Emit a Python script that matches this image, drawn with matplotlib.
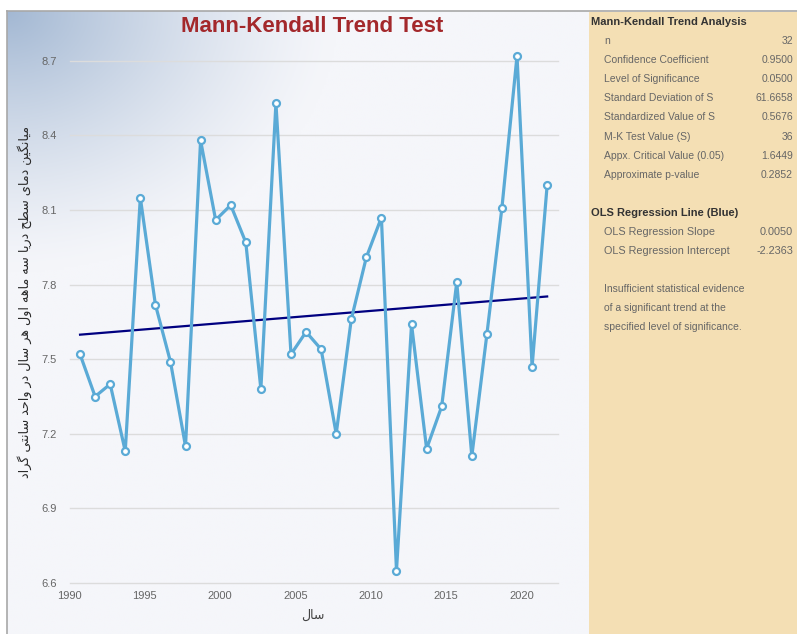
import numpy as np
import matplotlib
matplotlib.use('Agg')
import matplotlib.pyplot as plt
from matplotlib.lines import Line2D
from matplotlib.patches import Rectangle

# data
years = list(range(1991, 2023))
temps = [7.52, 7.35, 7.40, 7.13, 8.15, 7.72, 7.49, 7.15, 8.38, 8.06,
         8.12, 7.97, 7.38, 8.53, 7.52, 7.61, 7.54, 7.20, 7.66, 7.91,
         8.07, 6.65, 7.64, 7.14, 7.31, 7.81, 7.11, 7.60, 8.11, 8.72,
         7.47, 8.20]
x_ticks = [1990, 1995, 2000, 2005, 2010, 2015, 2020]
y_ticks = [6.6, 6.9, 7.2, 7.5, 7.8, 8.1, 8.4, 8.7]

title = "Mann-Kendall Trend Test"
x_label = "سال"
y_label = "میانگین دمای سطح دریا سه ماهه اول هر سال در واحد سانتی گراد"

mk_header = "Mann-Kendall Trend Analysis"
mk_names = ["n", "Confidence Coefficient", "Level of Significance",
            "Standard Deviation of S", "Standardized Value of S",
            "M-K Test Value (S)", "Appx. Critical Value (0.05)",
            "Approximate p-value"]
mk_values = ["32", "0.9500", "0.0500", "61.6658", "0.5676", "36",
             "1.6449", "0.2852"]
ols_header = "OLS Regression Line (Blue)"
ols_names = ["OLS Regression Slope", "OLS Regression Intercept"]
ols_values = ["0.0050", "-2.2363"]
verdict = ["Insufficient statistical evidence",
           "of a significant trend at the",
           "specified level of significance."]

# constants
fig_w, fig_h = 797, 634
series_colour = '#5aaad6'
trend_colour = '#000080'
panel_colour = '#f4dfb4'
tick_shift = 0.3

# persian letters -> (isolated, final, initial, medial)
forms = {
    '\u0627': ('\ufe8d', '\ufe8e', None, None),
    '\u062f': ('\ufea9', '\ufeaa', None, None),
    '\u0631': ('\ufead', '\ufeae', None, None),
    '\u0648': ('\ufeed', '\ufeee', None, None),
    '\u0645': ('\ufee1', '\ufee2', '\ufee3', '\ufee4'),
    '\u0646': ('\ufee5', '\ufee6', '\ufee7', '\ufee8'),
    '\u0633': ('\ufeb1', '\ufeb2', '\ufeb3', '\ufeb4'),
    '\u0637': ('\ufec1', '\ufec2', '\ufec3', '\ufec4'),
    '\u062d': ('\ufea1', '\ufea2', '\ufea3', '\ufea4'),
    '\u0647': ('\ufee9', '\ufeea', '\ufeeb', '\ufeec'),
    '\u0644': ('\ufedd', '\ufede', '\ufedf', '\ufee0'),
    '\u062a': ('\ufe95', '\ufe96', '\ufe97', '\ufe98'),
    '\u06cc': ('\ufbfc', '\ufbfd', '\ufbfe', '\ufbff'),
    '\u06af': ('\ufb92', '\ufb93', '\ufb94', '\ufb95'),
}

def shape_fa(text):
    # tiny arabic shaper: pick contextual forms, then reverse for display
    def dual(c):
        return c in forms and forms[c][2] is not None
    out = []
    for i, c in enumerate(text):
        if c not in forms:
            out.append(c)
            continue
        prev = text[i - 1] if i > 0 else ''
        nxt = text[i + 1] if i + 1 < len(text) else ''
        to_prev = dual(prev)
        to_next = dual(c) and nxt in forms
        iso, fin, ini, med = forms[c]
        if to_prev and to_next:
            out.append(med)
        elif to_prev:
            out.append(fin)
        elif to_next:
            out.append(ini)
        else:
            out.append(iso)
    return ''.join(reversed(out))

def fx(px):
    return px / fig_w

def fy(py):
    return 1 - py / fig_h

plt.rcParams['font.family'] = ['Liberation Sans', 'DejaVu Sans']

fig = plt.figure(figsize=(fig_w / 100, fig_h / 100), dpi=100)
fig.patch.set_facecolor('white')

# background with the blue glow in the top-left corner
bg = fig.add_axes([fx(7), 0, fx(589 - 7), fy(11)], zorder=-10)
gx, gy = np.meshgrid(np.linspace(0, 582, 300), np.linspace(0, 623, 300))
d = np.sqrt((gx / 330.) ** 2 + (gy / 260.) ** 2)
t = np.clip(1 - d, 0, 1) ** 1.3
base = np.array([245, 246, 250]) / 255.
corner = np.array([163, 184, 211]) / 255.
img = base[None, None, :] * (1 - t[..., None]) + corner[None, None, :] * t[..., None]
bg.imshow(img, aspect='auto', extent=(0, 1, 0, 1), origin='upper')
bg.set_xlim(0, 1)
bg.set_ylim(0, 1)
bg.axis('off')

# side panel and frame
fig.add_artist(Rectangle((fx(589), 0), fx(fig_w - 589), fy(12), transform=fig.transFigure,
                         facecolor=panel_colour, edgecolor='none', zorder=-5))
fig.add_artist(Line2D([fx(7), 1], [fy(11), fy(11)], color='#a8a8a8', lw=1.2))
fig.add_artist(Line2D([fx(7), fx(7)], [0, fy(11)], color='#a8a8a8', lw=1.2))

ax = fig.add_axes([fx(69.5), fy(583), fx(557.7 - 69.5), (583 - 41) / fig_h])
ax.patch.set_alpha(0)

coef = np.polyfit(years, temps, 1)
trend = np.polyval(coef, years)
ax.plot(years, trend, color=trend_colour, lw=1.6, zorder=2)
ax.plot(years, temps, color=series_colour, lw=2.3, marker='o', markersize=5,
        markerfacecolor='white', markeredgecolor=series_colour, markeredgewidth=1.6,
        zorder=3)

ax.set_xlim(x_ticks[0] + tick_shift, x_ticks[0] + tick_shift + 32.4)
ax.set_ylim(6.6, 8.78)
ax.set_xticks([v + tick_shift for v in x_ticks])
ax.set_xticklabels([str(v) for v in x_ticks])
ax.set_yticks(y_ticks)
ax.set_yticklabels(['%.1f' % v for v in y_ticks])
ax.tick_params(length=0, labelsize=8, colors='#666666')
ax.tick_params(axis='y', pad=9)
ax.tick_params(axis='x', pad=6)
ax.grid(axis='y', color='#dcdcdc', lw=1)
ax.set_axisbelow(True)
for gl in ax.get_ygridlines():
    gl.set_clip_on(False)
for s in ax.spines.values():
    s.set_visible(False)

fig.text(fx(312), fy(27), title, ha='center', va='center', fontsize=16,
         fontweight='bold', color='#a3282b')
fig.text(fx(313), fy(615), shape_fa(x_label), ha='center', va='center',
         fontsize=9, color='#444444', family='DejaVu Sans')
fig.text(fx(25), fy(302), shape_fa(y_label), ha='center', va='center',
         rotation=90, fontsize=9.2, color='#2a2a2a', family='DejaVu Sans')

# statistics panel
fs = 7.5
fig.text(fx(591), fy(22), mk_header, ha='left', va='center', fontsize=8,
         fontweight='bold', color='#333333')
for i, (n, v) in enumerate(zip(mk_names, mk_values)):
    yy = 41 + 19.1 * i
    fig.text(fx(604), fy(yy), n, ha='left', va='center', fontsize=fs, color='#666666')
    fig.text(fx(793), fy(yy), v, ha='right', va='center', fontsize=fs, color='#666666')
fig.text(fx(591), fy(213), ols_header, ha='left', va='center', fontsize=fs + 0.5,
         fontweight='bold', color='#333333')
for i, (n, v) in enumerate(zip(ols_names, ols_values)):
    yy = 232 + 19.1 * i
    fig.text(fx(604), fy(yy), n, ha='left', va='center', fontsize=fs + 0.3, color='#666666')
    fig.text(fx(793), fy(yy), v, ha='right', va='center', fontsize=fs + 0.3, color='#666666')
for i, line in enumerate(verdict):
    fig.text(fx(604), fy(289 + 19 * i), line, ha='left', va='center', fontsize=fs,
             color='#666666')

fig.savefig('out.png', dpi=100, facecolor=fig.get_facecolor())
